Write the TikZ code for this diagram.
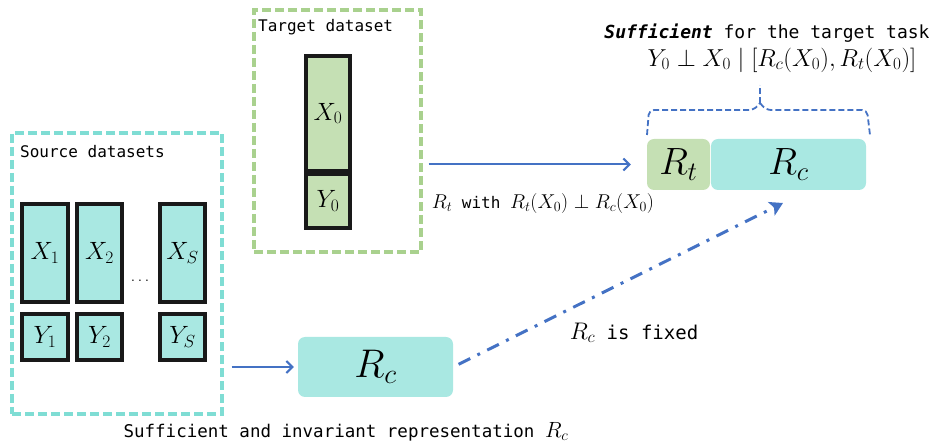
\RequirePackage{fix-cm}
\documentclass[tikz,border=0pt]{standalone}
\usepackage{fontspec}
\setmonofont{DejaVu Sans Mono}
\usetikzlibrary{arrows.meta}
\definecolor{tealfill}{HTML}{A9E8E2}
\definecolor{tealdash}{HTML}{7FDDD4}
\definecolor{greenfill}{HTML}{C5E0B4}
\definecolor{greendash}{HTML}{A9D18E}
\definecolor{arrowblue}{HTML}{4472C4}
\newcommand\fsz[1]{\fontsize{#1}{#1}\selectfont}
% math set a little larger than the surrounding monospace text
\newcommand\lblmath[2]{{\fsz{#1}$#2$}}
\tikzset{
  frame/.style={draw=#1, line width=3.2pt, dash pattern=on 9pt off 4pt, inner sep=0pt},
  databox/.style={draw=black!90, line width=3.2pt, fill=#1, inner sep=0pt, font=\fsz{25}},
  repbox/.style={fill=#1, rounded corners=7pt, inner sep=0pt},
  flow/.style={draw=arrowblue, line width=2pt, -{Straight Barb[length=6pt,width=12pt,line width=2pt]}},
  fixedflow/.style={draw=arrowblue, line width=3pt, dash pattern=on 13pt off 8pt on 3pt off 8pt,
    -{Stealth[length=13pt,width=15pt,inset=3pt]}},
  bracket/.style={draw=arrowblue, line width=1.8pt, dash pattern=on 6pt off 3pt},
  caption/.style={inner sep=0pt, font=\ttfamily\fsz{17}},
}
\begin{document}
\begin{tikzpicture}[x=1pt,y=-1pt]
\useasboundingbox (0,0) rectangle (938,443);

% source datasets
\node[frame=tealdash, minimum width=210pt, minimum height=281pt] (src) at (117,273.5) {};
\node[caption, anchor=west, font=\ttfamily\fsz{16}] (srclbl) at (20,152) {Source datasets};
\node[databox=tealfill, minimum width=46pt, minimum height=98pt] (x1) at (45,253) {$X_1$};
\node[databox=tealfill, minimum width=45pt, minimum height=98pt] (x2) at (99.5,253) {$X_2$};
\node[databox=tealfill, minimum width=45pt, minimum height=98pt] (xs) at (182.5,253) {$X_S$};
\node[databox=tealfill, minimum width=46pt, minimum height=46pt] (y1) at (45,337) {$Y_1$};
\node[databox=tealfill, minimum width=45pt, minimum height=46pt] (y2) at (99.5,337) {$Y_2$};
\node[databox=tealfill, minimum width=45pt, minimum height=46pt] (ys) at (182.5,337) {$Y_S$};
\node[inner sep=0pt, font=\fsz{16}] (dots) at (140,281) {$\dots$};

% target dataset
\node[frame=greendash, minimum width=167pt, minimum height=242pt] (tgt) at (337.5,131) {};
\node[caption, anchor=west, font=\ttfamily\fsz{16}] (tgtlbl) at (258,27) {Target dataset};
\node[databox=greenfill, minimum width=44pt, minimum height=115pt] (x0) at (328,113.5) {$X_0$};
\node[databox=greenfill, minimum width=44pt, minimum height=54pt] (y0) at (328,201) {$Y_0$};

% combined representation
\node[repbox=greenfill, minimum width=63pt, minimum height=51pt, font=\fsz{38}] (rt) at (678.5,164.5) {$R_t$};
\node[repbox=tealfill, minimum width=155pt, minimum height=51pt, font=\fsz{38}] (rc) at (788.5,164.5) {$R_c$};

% learned invariant representation
\node[repbox=tealfill, minimum width=155pt, minimum height=60pt, font=\fsz{40}] (rcl) at (375.5,367) {$R_c$};

% connectors
\draw[flow, shorten <=6pt, shorten >=16pt] (tgt.east |- rt.west) -- (rt.west);
\draw[flow, shorten <=8pt, shorten >=4pt] (src.east |- rcl.west) -- (rcl.west);
\coordinate (fixtip) at (783,203);
\draw[fixedflow, shorten <=6pt] (rcl.east) -- (fixtip);

% bracket over the combined representation
\coordinate (bl) at (647,135);
\coordinate (br) at (870,135);
\coordinate (bn) at (760,103);
\coordinate (bt) at (760,85);
\draw[bracket, rounded corners=5pt] (bl) -- (649,110) -- (754,110) -- (bn);
\draw[bracket, rounded corners=5pt] (bn) -- (766,110) -- (867,110) -- (br);
\draw[bracket] (bn) -- (bt);

% labels
\node[caption, font=\ttfamily\fsz{18}] (suff) at (767,33) {\textbf{\textit{Sufficient}} for the target task};
\node[inner sep=0pt, font=\fsz{24.5}] (cond) at (782,60) {$Y_0 \perp X_0 \mid [R_c(X_0), R_t(X_0)]$};
\node[caption, font=\ttfamily\fsz{16}] (rtlbl) at (543,204) {\lblmath{20}{R_t} with \lblmath{20}{R_t(X_0)\perp R_c(X_0)}};
\node[caption, font=\ttfamily\fsz{19}] (fixlbl) at (634,333) {\lblmath{24}{R_c} is fixed};
\node[caption, font=\ttfamily\fsz{17.5}] (rclbl) at (346,432) {Sufficient and invariant representation \lblmath{22}{R_c}};
\end{tikzpicture}
\end{document}
